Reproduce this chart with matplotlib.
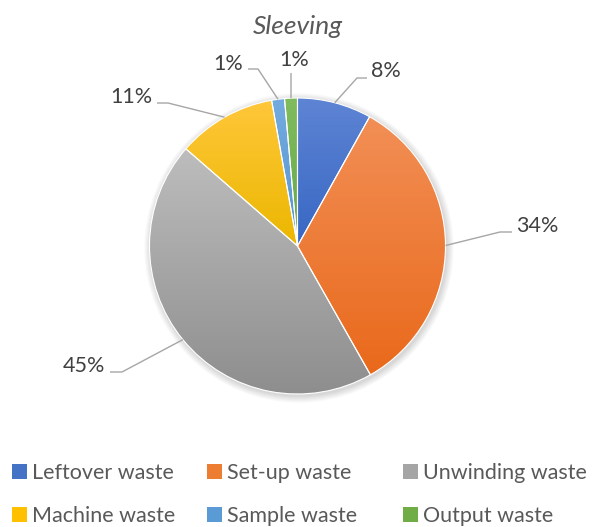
import numpy as np
import matplotlib.pyplot as plt
from matplotlib.colors import LinearSegmentedColormap
from matplotlib.patches import Patch, Circle

plt.rcParams['font.family'] = ['Lato', 'DejaVu Sans']

W, H = 592, 527

title = "Sleeving"
categories = ["Leftover waste", "Set-up waste", "Unwinding waste",
              "Machine waste", "Sample waste", "Output waste"]
shares = [8.1, 33.7, 44.6, 10.8, 1.4, 1.4]

# gradient colours per slice (top -> bottom)
top_colors = ["#5E84D4", "#F28F56", "#BDBDBD", "#FFC73A", "#74ABDF", "#80BC5E"]
bottom_colors = ["#3767C3", "#E9691B", "#8E8E8E", "#EBB700", "#5595D2", "#66A84A"]
legend_colors = ["#4472C4", "#ED7D31", "#A5A5A5", "#FFC000", "#5B9BD5", "#70AD47"]

# label layout: text centre and leader-line elbow (pixel coordinates, y downward)
label_text_xy = [(386, 71), (537, 226), (84, 366), (131, 97), (228, 64), (294, 60)]
label_elbows = [[(357, 78), (367, 78)],
                [(500, 232), (512, 232)],
                [(122, 372), (110, 372)],
                [(168, 103), (157, 103)],
                [(258, 69), (248, 69)],
                [(291, 73)]]

fig = plt.figure(figsize=(W / 100, H / 100), dpi=100)
ax = fig.add_axes([0, 0, 1, 1])

cx, cy, R = 297.5, H - 246, 148

# soft drop shadow under the pie
for i in range(8):
    ax.add_patch(Circle((cx + 1.5, cy - 2.0), R + 0.5 + i * 0.9, color="black",
                        alpha=0.018, lw=0, zorder=1))

wedges, _ = ax.pie(shares, center=(cx, cy), radius=R, startangle=90,
                   counterclock=False,
                   wedgeprops=dict(linewidth=0.8, edgecolor="white"))

grad = np.linspace(0, 1, 256).reshape(-1, 1)
for w, c0, c1 in zip(wedges, top_colors, bottom_colors):
    ext = w.get_path().get_extents()
    cmap = LinearSegmentedColormap.from_list("g", [c0, c1])
    im = ax.imshow(grad, extent=(ext.x0, ext.x1, ext.y0, ext.y1), origin="upper",
                   cmap=cmap, aspect="auto", zorder=2, interpolation="bilinear")
    im.set_clip_path(w)
    w.set_facecolor("none")
    w.set_zorder(3)

# percentage labels with leader lines
total = sum(shares)
cum = 0.0
for v, (tx, ty), elbow in zip(shares, label_text_xy, label_elbows):
    mid = (cum + v / 2) / total * 360.0
    cum += v
    ang = np.deg2rad(90 - mid)
    ax_pt = (cx + R * np.cos(ang), cy + R * np.sin(ang))
    pts = [ax_pt] + [(x, H - y) for x, y in elbow]
    xs, ys = zip(*pts)
    ax.plot(xs, ys, color="#A6A6A6", lw=1.0, zorder=4, solid_capstyle="butt")
    ax.text(tx, H - ty, f"{round(v / total * 100):d}%", ha="center", va="center",
            fontsize=15.5, color="#404040", zorder=5)

ax.text(cx, H - 26, title, ha="center", va="center", fontsize=19,
        style="italic", color="#595959")

ax.set_xlim(0, W)
ax.set_ylim(0, H)
ax.set_aspect("auto")
ax.axis("off")

# legend: three columns, two rows (row-major order)
col_x = [12, 403 - 196, 403]
for col, x0 in enumerate(col_x):
    idx = [col, col + 3]
    handles = [Patch(facecolor=legend_colors[i], edgecolor="none") for i in idx]
    labels = [categories[i] for i in idx]
    fig.legend(handles, labels, ncol=1, loc="upper left",
               bbox_to_anchor=(x0 / W, 1 - 463 / H), frameon=False,
               fontsize=15.5, labelcolor="#595959", handlelength=0.68,
               handleheight=0.68, handletextpad=0.25, labelspacing=1.08,
               borderpad=0, borderaxespad=0)

fig.savefig("out.png", dpi=100)
